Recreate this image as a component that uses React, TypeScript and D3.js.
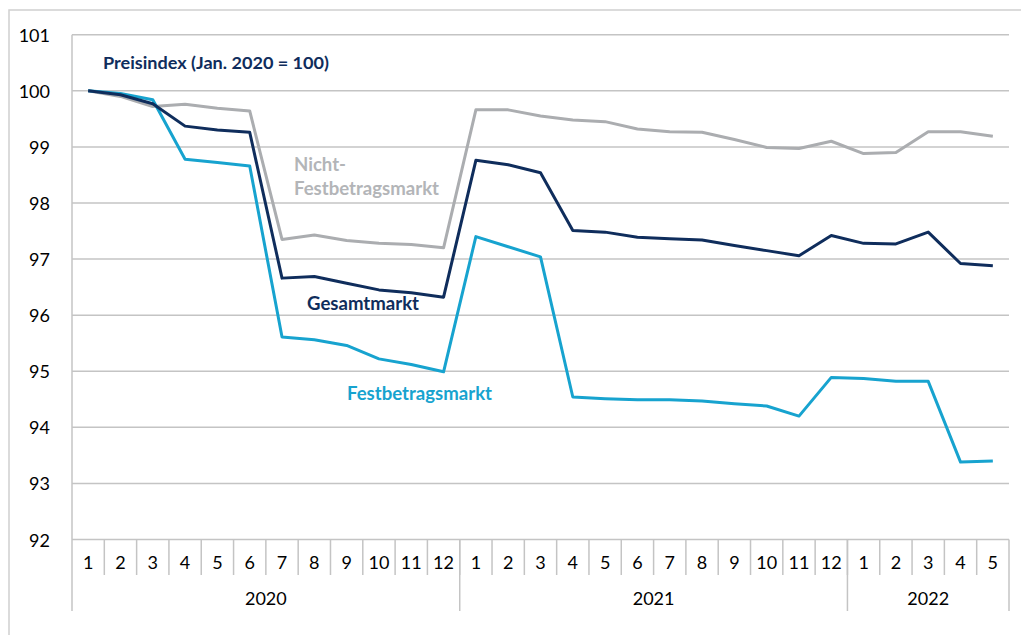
import React from "react";
import * as d3 from "d3";

const months: string[] = [
  "1","2","3","4","5","6","7","8","9","10","11","12",
  "1","2","3","4","5","6","7","8","9","10","11","12",
  "1","2","3","4","5",
];
const years: { label: string; count: number }[] = [
  { label: "2020", count: 12 },
  { label: "2021", count: 12 },
  { label: "2022", count: 5 },
];
const yTicks: number[] = [92, 93, 94, 95, 96, 97, 98, 99, 100, 101];

const gesamtmarkt: number[] = [
  100.0, 99.93, 99.77, 99.37, 99.30, 99.26, 96.66, 96.69, 96.57, 96.45, 96.40, 96.32,
  98.76, 98.68, 98.54, 97.51, 97.48, 97.39, 97.36, 97.34, 97.24, 97.15, 97.06, 97.42,
  97.28, 97.27, 97.48, 96.92, 96.88,
];
const festbetragsmarkt: number[] = [
  100.0, 99.95, 99.84, 98.78, 98.72, 98.66, 95.61, 95.56, 95.46, 95.22, 95.12, 94.99,
  97.40, 97.22, 97.04, 94.54, 94.51, 94.49, 94.49, 94.47, 94.42, 94.38, 94.20, 94.89,
  94.87, 94.82, 94.82, 93.38, 93.40,
];
const nichtFestbetragsmarkt: number[] = [
  100.0, 99.90, 99.72, 99.76, 99.69, 99.64, 97.35, 97.43, 97.33, 97.28, 97.26, 97.20,
  99.66, 99.66, 99.55, 99.48, 99.45, 99.32, 99.27, 99.26, 99.13, 98.99, 98.97, 99.10,
  98.88, 98.90, 99.27, 99.27, 99.19,
];

const NAVY = "#0f2d5c";
const CYAN = "#17a3cf";
const GRAY = "#abadb0";
const GRID = "#c4c4c4";
const FONT = "Lato, 'Open Sans', sans-serif";

export default function App() {
  const W = 1021;
  const H = 635;
  const left = 72;
  const right = 1009;
  const top = 34.7;
  const bottom = 539.5;

  const idx = months.map((_, i) => i);
  const x = d3.scaleBand<number>().domain(idx).range([left, right]).padding(0);
  const y = d3.scaleLinear().domain([92, 101]).range([bottom, top]);
  const cx = (i: number) => (x(i) as number) + x.bandwidth() / 2;

  const line = d3
    .line<number>()
    .x((_, i) => cx(i))
    .y((d) => y(d));

  const series = [
    { data: nichtFestbetragsmarkt, color: GRAY },
    { data: festbetragsmarkt, color: CYAN },
    { data: gesamtmarkt, color: NAVY },
  ];

  // year boundaries
  let acc = 0;
  const yearBlocks = years.map((yr) => {
    const start = acc;
    acc += yr.count;
    return { ...yr, start, end: acc };
  });
  const edge = (k: number) => (k >= months.length ? right : (x(k) as number));

  return (
    <svg
      width={W}
      height={H}
      style={{ position: "absolute", left: 0, top: 0, background: "#fff" }}
      fontFamily={FONT}
    >
      <rect x={0} y={0} width={W} height={H} fill="#fff" />
      {/* outer frame */}
      <rect x={9} y={10} width={W + 20} height={H + 20} fill="none" stroke="#d0d0d0" strokeWidth={1.5} />

      {/* gridlines */}
      {yTicks.map((t) => (
        <line key={t} x1={left} x2={right} y1={y(t)} y2={y(t)} stroke={GRID} strokeWidth={1.5} />
      ))}
      {/* left axis line */}
      <line x1={left} x2={left} y1={top} y2={611} stroke={GRID} strokeWidth={1.5} />

      {/* y tick labels */}
      {yTicks.map((t) => (
        <text key={t} x={50} y={y(t)} textAnchor="end" dominantBaseline="central" fontSize={18} fill="#000">
          {t}
        </text>
      ))}

      {/* month separators */}
      {idx.slice(1).map((i) => (
        <line key={i} x1={x(i) as number} x2={x(i) as number} y1={bottom} y2={575} stroke={GRID} strokeWidth={1.5} />
      ))}
      {/* year separators */}
      {yearBlocks.map((b) => (
        <line key={b.label} x1={edge(b.end)} x2={edge(b.end)} y1={bottom} y2={611} stroke={GRID} strokeWidth={1.5} />
      ))}

      {/* month labels */}
      {months.map((m, i) => (
        <text key={i} x={cx(i)} y={562} textAnchor="middle" dominantBaseline="central" fontSize={18} fill="#000">
          {m}
        </text>
      ))}
      {/* year labels */}
      {yearBlocks.map((b) => (
        <text
          key={b.label}
          x={(edge(b.start) + edge(b.end)) / 2}
          y={598}
          textAnchor="middle"
          dominantBaseline="central"
          fontSize={18}
          fill="#000"
        >
          {b.label}
        </text>
      ))}

      {/* lines */}
      {series.map((s, k) => (
        <path key={k} d={line(s.data) || ""} fill="none" stroke={s.color} strokeWidth={3} strokeLinejoin="round" />
      ))}

      {/* annotations */}
      <text x={103} y={69} fontSize={17} fontWeight="bold" fill={NAVY} textLength={226} lengthAdjust="spacingAndGlyphs">
        Preisindex (Jan. 2020 = 100)
      </text>
      <text x={294} y={171} fontSize={18} fontWeight="bold" fill="#b3b5b8" textLength={52} lengthAdjust="spacingAndGlyphs">
        Nicht-
      </text>
      <text x={294} y={195} fontSize={18} fontWeight="bold" fill="#b3b5b8" textLength={145} lengthAdjust="spacingAndGlyphs">
        Festbetragsmarkt
      </text>
      <text x={307} y={310} fontSize={18} fontWeight="bold" fill={NAVY} textLength={112} lengthAdjust="spacingAndGlyphs">
        Gesamtmarkt
      </text>
      <text x={347} y={400} fontSize={18} fontWeight="bold" fill={CYAN} textLength={145} lengthAdjust="spacingAndGlyphs">
        Festbetragsmarkt
      </text>
    </svg>
  );
}
